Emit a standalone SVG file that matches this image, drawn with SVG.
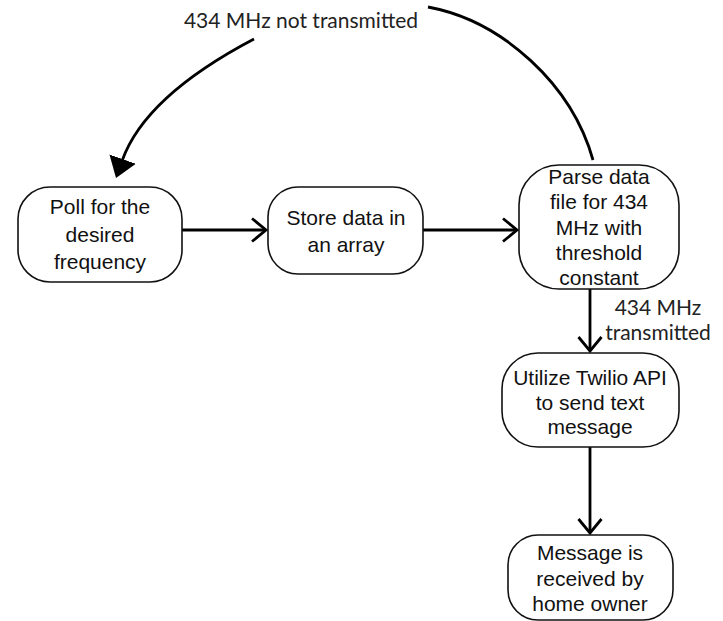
<svg xmlns="http://www.w3.org/2000/svg" width="723" height="621" viewBox="0 0 723 621">
  <style>
    .node rect { fill: #fff; stroke: #111; stroke-width: 1.6; }
    .node text { font-family: "Liberation Sans", Arial, sans-serif; font-size: 21px; fill: #111; text-anchor: middle; }
    .edge { fill: none; stroke: #000; stroke-width: 2.8; }
    .lbl { font-family: Lato, "Noto Sans", sans-serif; font-size: 21px; fill: #222; text-anchor: middle; }
  </style>
  <defs>
    <!-- open chevron head for the flow arrows -->
    <marker id="chev" markerUnits="userSpaceOnUse" markerWidth="24" markerHeight="30" refX="15" refY="13" orient="auto">
      <path d="M1 1.5 L15 13 L1 24.5" fill="none" stroke="#000" stroke-width="2.8"/>
    </marker>
    <!-- solid head for the loop-back arrow -->
    <marker id="tri" markerUnits="userSpaceOnUse" markerWidth="30" markerHeight="30" refX="2" refY="14" orient="auto">
      <path d="M0 0 L20 14 L0 28 Z" fill="#000"/>
    </marker>
  </defs>

  <g id="connectors">
    <path class="edge" d="M182 230 L266 230" marker-end="url(#chev)"/>
    <path class="edge" d="M423 230 L517 230" marker-end="url(#chev)"/>
    <path class="edge" d="M590 289 L590 351" marker-end="url(#chev)"/>
    <path class="edge" d="M590 447 L590 533" marker-end="url(#chev)"/>
    <path class="edge" d="M593 160 C572 85 503 21 428 7"/>
    <path class="edge" d="M254 39 C195 70 140 110 122 161" marker-end="url(#tri)"/>
  </g>

  <g id="labels">
    <text class="lbl" x="301" y="28">434 MHz not transmitted</text>
    <text class="lbl" x="658" y="315">434 MHz</text>
    <text class="lbl" x="658" y="340">transmitted</text>
  </g>

  <g id="poll" class="node">
    <rect x="18" y="187" width="164" height="95" rx="32"/>
    <text x="100" y="214">Poll for the</text>
    <text x="100" y="242">desired</text>
    <text x="100" y="269">frequency</text>
  </g>

  <g id="store" class="node">
    <rect x="268" y="187" width="155" height="87" rx="30"/>
    <text x="346" y="225">Store data in</text>
    <text x="346" y="252">an array</text>
  </g>

  <g id="parse" class="node">
    <rect x="519" y="165" width="160" height="124" rx="40"/>
    <text x="599" y="184">Parse data</text>
    <text x="599" y="209">file for 434</text>
    <text x="599" y="235">MHz with</text>
    <text x="599" y="260">threshold</text>
    <text x="599" y="285">constant</text>
  </g>

  <g id="twilio" class="node">
    <rect x="502" y="353" width="177" height="94" rx="36"/>
    <text x="590" y="385">Utilize Twilio API</text>
    <text x="590" y="410">to send text</text>
    <text x="590" y="434">message</text>
  </g>

  <g id="received" class="node">
    <rect x="508" y="535" width="165" height="85" rx="30"/>
    <text x="590" y="560">Message is</text>
    <text x="590" y="586">received by</text>
    <text x="590" y="611">home owner</text>
  </g>
</svg>
